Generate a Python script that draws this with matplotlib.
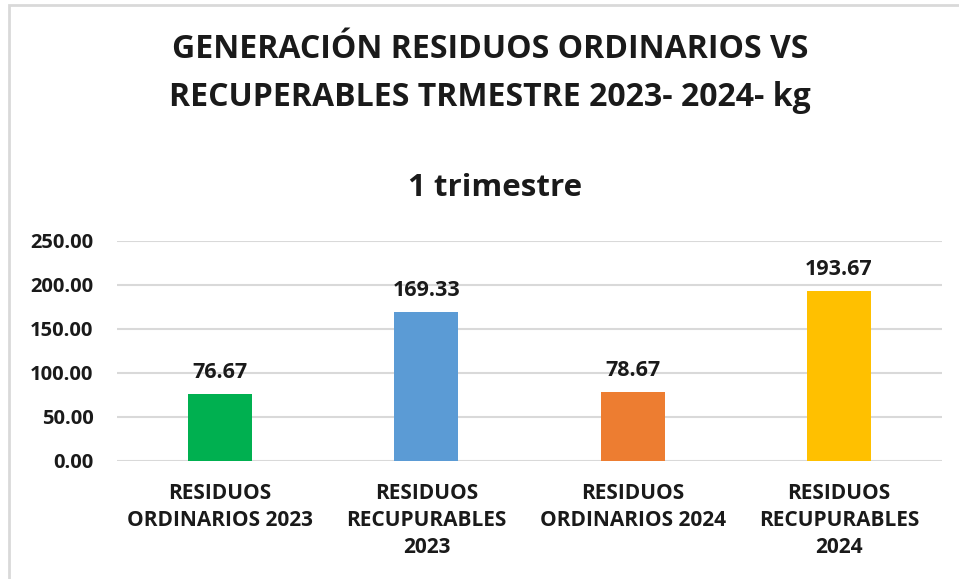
import matplotlib.pyplot as plt
import matplotlib as mpl
from matplotlib.patches import Rectangle

# ── Data ──────────────────────────────────────────────────────────────────
categories = [
    "RESIDUOS\nORDINARIOS 2023",
    "RESIDUOS\nRECUPURABLES\n2023",
    "RESIDUOS\nORDINARIOS 2024",
    "RESIDUOS\nRECUPURABLES\n2024",
]
values = [76.67, 169.33, 78.67, 193.67]
colors = ["#00B050", "#5B9BD5", "#ED7D31", "#FFC000"]
yticks = [0, 50, 100, 150, 200, 250]

# ── Style ─────────────────────────────────────────────────────────────────
mpl.rcParams.update({
    "font.family": ["Open Sans", "DejaVu Sans"],
    "font.weight": "bold",
})
TXT = "#1a1a1a"

W, H = 959, 579
fig = plt.figure(figsize=(W / 100, H / 100), dpi=100)
fig.patch.set_facecolor("white")

# light frame of the chart area
fig.patches.append(Rectangle((9 / W, -0.01), 1.0, 1 - 5 / H + 0.01,
                             transform=fig.transFigure, fill=False,
                             edgecolor="#D9D9D9", linewidth=2.0))

ax = fig.add_axes([117 / W, 1 - 461 / H, (942 - 117) / W, 220 / H])

x = range(len(values))
ax.bar(x, values, width=0.31, color=colors, zorder=3)
for i, v in zip(x, values):
    ax.text(i, v + 12, f"{v:.2f}", ha="center", va="bottom",
            fontsize=15.5, fontweight="bold", color=TXT)

ax.set_xlim(-0.5, len(values) - 0.5)
ax.set_ylim(0, 250)
ax.set_yticks(yticks)
ax.set_yticklabels([f"{t:.2f}" for t in yticks], fontsize=14.5,
                   fontweight="bold", color=TXT)
ax.set_xticks(list(x))
ax.set_xticklabels(categories, fontsize=15, fontweight="bold",
                   color=TXT, linespacing=1.36)
ax.tick_params(axis="x", length=0, pad=16)
ax.tick_params(axis="y", length=0, pad=17)
ax.grid(axis="y", color="#D9D9D9", linewidth=1.5, zorder=0)
for s in ax.spines.values():
    s.set_visible(False)

fig.text(490 / W, 1 - 50 / H, "GENERACIÓN RESIDUOS ORDINARIOS VS",
         ha="center", va="center", fontsize=23, fontweight="bold", color=TXT)
fig.text(490 / W, 1 - 97 / H, "RECUPERABLES TRMESTRE 2023- 2024- kg",
         ha="center", va="center", fontsize=23, fontweight="bold", color=TXT)
fig.text(495 / W, 1 - 188 / H, "1 trimestre",
         ha="center", va="center", fontsize=22.5, fontweight="bold", color=TXT)

fig.savefig("out.png", dpi=100, facecolor="white")
